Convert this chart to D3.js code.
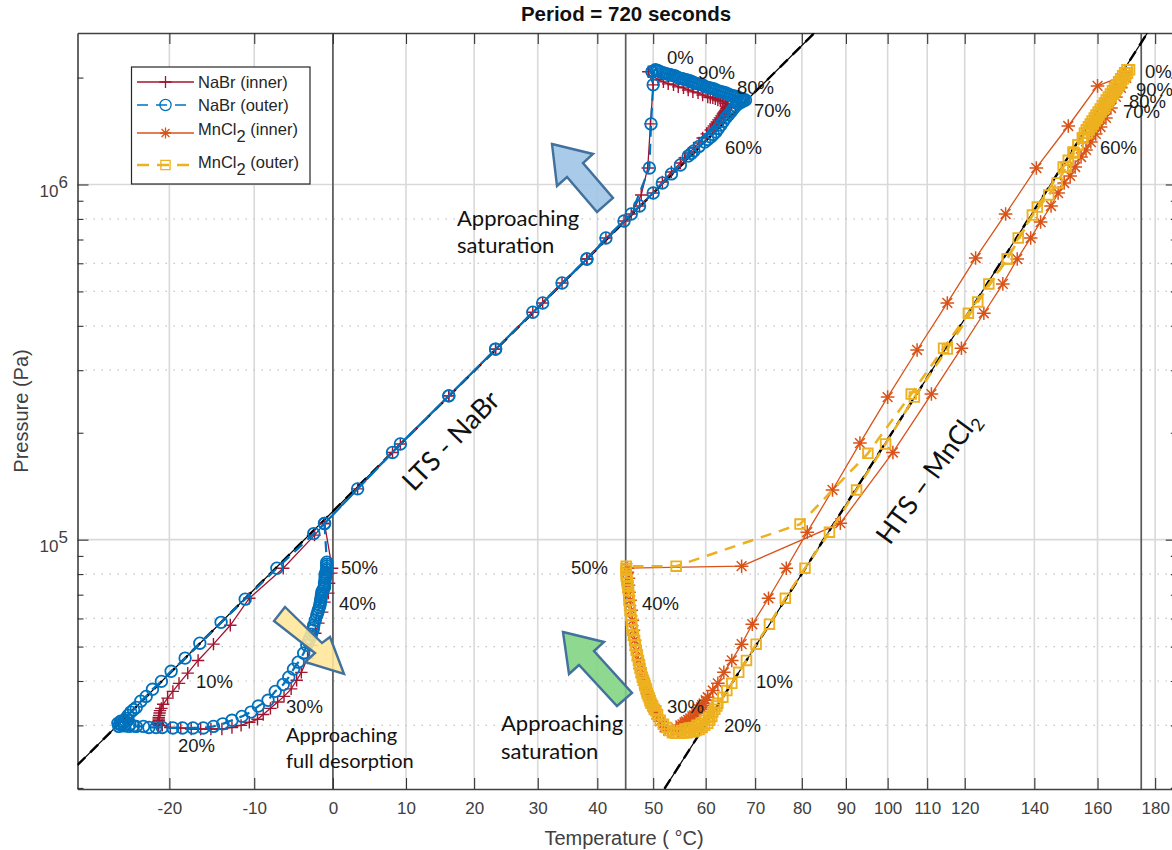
<!DOCTYPE html>
<html><head><meta charset="utf-8">
<script src="https://cdn.jsdelivr.net/npm/d3@7"></script>
<style>html,body{margin:0;padding:0;background:#fff;overflow:hidden}svg{display:block}</style>
</head><body><div id="c"></div>
<script>
// ---------- data: [temperature in deg C, pressure in kPa] ----------
const nabrInner = [[49.1,2076],[50,1908],[49.5,1481],[49,1113],[47.8,934],[46,826],[41.5,707],[38.2,617],[34,528],[29.2,437],[23.3,344],[16.2,254],[8.1,176],[-1.1,111],[-2.4,103],
[-6.4,83.1],[-10.6,68.4],[-12.9,57.4],[-14.9,50.8],[-16.7,45.7],[-17.9,42.1],[-18.9,39.4],[-19.6,37.4],[-20.2,35.8],[-20.7,34.4],[-20.9,33.5],[-21.05,33],[-21.1,32.5],[-21.15,32],[-21.2,31.6],[-21.2,31.3],[-21.2,31],[-21.25,30.7],[-21.3,30.4],[-21.25,30.2],[-21.2,30],
[-20.8,30],[-19.9,29.6],[-18.7,29.5],[-17.5,29.3],[-16.4,29.3],[-15.2,29.3],[-13.9,29.3],[-12.7,29.6],[-11.6,30],[-10.6,30.6],[-9.6,31.2],[-8.9,32.2],[-8,33.5],[-7.1,34.9],[-6.3,36.2],[-5.4,38],[-4.7,40.2],[-4.1,42.3],[-3.3,46.4],[-2.8,50.4],[-2.3,54.5],[-1.9,58.2],[-1.4,62.5],[-1.1,66.7],[-0.6,70.7],[-0.5,75.4],[-0.2,80.5],[-0.1,83.1],
[-1.1,111],[3.3,139],[9.2,186],[16.2,254],[23.3,344],[30.8,464],[38.2,617],[44.7,789],[47.5,870],[50,946],[51.7,1016],[53.4,1084],[55.1,1150],[55.9,1188],[56.8,1227],[57.7,1267],[58.7,1309],[59.4,1352],[60.2,1388],[61,1424],[61.3,1442],[61.6,1461],[61.9,1480],[62.2,1500],[62.5,1520],[62.8,1540],[63.1,1560],[63.4,1580],[63.55,1590],[63.7,1600],[63.85,1610],[64,1621],[64.1,1635],[64.2,1650],[64.3,1662],[64.4,1675],
[63.9,1690],[63.4,1708],[62.9,1720],[62.4,1730],[61.9,1742],[61.4,1753],[60.9,1758],[60.4,1764],[59.4,1787],[58.5,1811],[57.5,1823],[56.6,1846],[55.7,1871],[54.7,1883],[53.8,1908],[52.8,1920],[51.9,1945],[50.9,1971],[50,2021]];

const nabrOuter = [[49.8,2076],[50,1908],[49.6,1481],[49.3,1113],[46,826],[41.5,707],[38.2,617],[34,528],[29.2,437],[23.3,344],[16.2,254],[8.1,176],[-1.1,111],[-2.5,104],
[-7.2,83.1],[-11.1,68],[-14,58.5],[-16.5,51.1],[-18.2,46.4],[-19.8,42.6],[-20.9,39.9],[-21.9,37.9],[-22.6,36.2],[-23.2,35.1],[-23.7,33.7],[-24,33.2],[-24.3,32.7],[-24.6,32],[-24.8,31.4],[-25,31],[-25.1,30.6],[-25.4,30.8],[-25.5,30.2],[-25.7,30.4],[-25.6,29.8],[-25.3,30.1],[-25,29.9],[-24.6,31],[-24.4,30.2],
[-24.5,29.8],[-24,29.9],[-23.7,29.8],[-22.9,29.8],[-22.3,29.6],[-21.5,29.6],[-20.8,29.6],[-19.6,29.5],[-18.5,29.5],[-17.3,29.5],[-16.1,29.5],[-14.9,29.8],[-13.8,30.3],[-12.7,31],[-11.5,31.8],[-10.4,32.7],[-9.5,34],[-8.3,35.3],[-7.4,37.4],[-6.4,39.1],[-5.7,41],[-5.1,43.2],[-4.5,45.2],[-3.8,47.9],[-3.4,50.4],[-3.2,51.6],[-3,52.8],[-2.8,54.2],[-2.6,55.6],[-2.55,56.5],[-2.5,57.4],[-2.3,59.3],[-2.1,61.3],[-2,62.3],[-1.9,63.3],[-1.8,64.3],[-1.7,65.4],[-1.65,66.5],[-1.6,67.5],[-1.55,68.6],[-1.5,69.7],[-1.45,70.6],[-1.4,71.6],[-1.25,72.5],[-1.1,73.5],[-1.1,74.4],[-1.1,75.4],[-1.05,76.6],[-1,77.9],[-1,78.9],[-1,79.9],[-0.9,81],[-0.8,82],[-0.8,83],[-0.8,84.2],[-0.8,85.3],[-0.8,86.4],
[-1.1,111],[3.3,139],[9.2,186],[16.2,254],[23.3,344],[30.8,464],[38.2,617],[44.7,789],[47.5,870],[50,946],[51.7,1010],[53.4,1071],[55.1,1135],[56.6,1203],[57.2,1223],[57.7,1243],[58.7,1280],[59.8,1317],[60.4,1339],[61,1361],[61.5,1383],[62,1406],[62.5,1438],[63,1471],[63.5,1505],[64,1540],[64.5,1570],[65,1600],[65.3,1620],[65.6,1642],[66,1664],[66.4,1686],[66.8,1697],[67.2,1708],[67.6,1720],
[68,1730],[67.6,1735],[67.2,1741],[66.8,1752],[66.4,1764],[66,1770],[65.6,1776],[65.2,1781],[64.8,1787],[64.4,1799],[64,1811],[63.6,1817],[63.2,1823],[62.8,1829],[62.4,1835],[62,1847],[61.6,1859],[61.2,1865],[60.8,1871],[60.4,1877],[60,1883],[59.65,1895],[59.3,1908],[58.9,1914],[58.5,1920],[58.1,1926],[57.7,1933],[57.35,1945],[57,1958],[56.6,1964],[56.2,1971],[55.85,1977],[55.5,1984],[55.1,1990],[54.7,1997],[54.35,2010],[54,2023],[53.6,2029],[53.2,2036],[52.85,2042],[52.5,2049],[52.1,2056],[51.7,2063],[51.3,2076],[50.9,2090],[50.65,2096],[50.4,2103],[49.8,2076]];

const mnInner = [[169.7,2036],[160,1895],[150.5,1461],[140.6,1113],[131.5,826],[123,621],[115.3,464],[107.4,342],[100,252],[93.3,187],[86.9,138],[81.2,105],[76.6,83.1],[72.8,68.4],[69.4,57.8],[67.2,50.8],[65.2,45.7],[63.6,42.3],[62.4,39.4],[61.4,37.6],[60.4,36],[60,35.3],[59.6,34.6],[59.3,34.2],[59.1,33.7],[58.7,33.3],[58.3,32.9],[58.1,32.5],[57.7,32],[57.4,31.8],[57,31.4],[56.6,31.1],[56.2,30.8],[55.9,30.6],[55.5,30.2],[55.1,30],[54.7,29],[54.3,29.4],[53.8,28.8],[52.8,29],[52.1,29.6],[51.3,30.8],[50.6,32.2],[50,33.7],[49.5,35.3],[48.9,36.9],[48.4,38.9],[48,41],[47.6,43.4],[47.3,45.7],[46.9,48.8],[46.6,52.1],[46.4,55.6],[46.2,59.3],[46,63.3],[45.8,67.5],[45.6,71.1],[45.5,74.4],[45.5,77.9],[45.3,81],[45.3,83.1],
[67.2,84.2],[88.7,111.3],[101.3,176],[111.1,257],[119.1,346],[125.3,434],[130.7,525],[134.9,617],[138.9,707],[141.9,784],[145.1,870],[147.3,946],[149.2,1010],[151.1,1057],[152.7,1120],[154.6,1195],[156.2,1251],[157.8,1317],[159.4,1388],[161,1452],[162.8,1540],[164.5,1642],[166.2,1764],[167.9,1871],[169.7,1997]];

const mnOuter = [[170,2103],[169.2,2063],[168.5,2023],[167.8,1984],[167.1,1945],[166.4,1908],[165.7,1871],[165,1835],[164.3,1799],[163.6,1764],[162.9,1730],[162.3,1697],[161.6,1665],[160.9,1632],[160.2,1601],[159.5,1570],[158.9,1540],[158.2,1510],[157.6,1481],[157,1453],[156.3,1425],[155.7,1397],[155,1352],[153.6,1292],[152,1235],[150.5,1170],[148.9,1120],[140.9,864],[132,617],[123.6,467],[115.3,344],[106.7,252],[99.5,186],[92.5,138],[86.2,105],[80.7,83.1],[76.4,68.4],[73,57.8],[70.2,50.8],[68.2,45.7],[66.6,42.3],[65.2,39.4],[64.2,37.6],[63.4,36],[62.4,34.6],[62.2,34],[61.8,33.3],[61.4,32.7],[61.2,31.8],[60.6,31.6],[60.8,31],[59.8,31],[60.4,30.4],[59.1,30.4],[59.8,30],[58.3,30],[59.3,29.6],[57.6,29.6],[58.7,29.2],[56.8,29.5],[58.1,29],[56,29.3],[57.6,28.8],[55.3,29],[57,28.8],[56.4,28.6],[55.9,28.6],[55.3,28.5],[54.7,28.5],[54.2,28.5],[53.6,28.6],[53,29],[52.5,29.6],[51.9,30.2],[51.3,31],[50.8,32.2],[50.5,33],[50.2,33.3],[49.9,34],[49.6,34.6],[49.4,35.2],[49.3,35.8],[49.1,36.3],[48.9,36.9],[48.8,37.5],[48.7,38.1],[48.5,38.8],[48.4,39.4],[48.2,40.2],[48,41],[47.8,42.2],[47.6,43.4],[47.45,44.5],[47.3,45.7],[47.1,47.2],[46.9,48.8],[46.75,50.4],[46.6,52.1],[46.4,53.8],[46.2,55.6],[46.1,57.4],[46,59.3],[45.9,61.2],[45.8,63.3],[45.7,65.3],[45.6,67.5],[45.55,69.8],[45.5,72.1],[45.4,73.7],[45.3,75.4],[45.2,77.1],[45.1,78.9],[45.1,80.4],[45.1,82],[45.1,83],[45.1,84.2],
[54.3,84.2],[79.6,110.6],[95.2,175],[105.9,257],[114.3,346],[121,434],[126.7,525],[132,617],[135.2,707],[139.4,820],[144.4,934],[147,1010],[149.8,1120],[152.4,1227],[153.6,1292],[155.2,1352],[156.7,1397],[157.3,1425],[158,1453],[158.6,1481],[159.2,1510],[159.9,1540],[160.5,1570],[161.2,1601],[161.9,1632],[162.6,1665],[163.3,1697],[163.9,1730],[164.6,1764],[165.3,1799],[166,1835],[166.7,1871],[167.4,1908],[168.1,1945],[168.8,1984],[169.5,2023],[170.2,2063],[170.9,2103]];

const lineNaBr = [[-30,23.2],[82.8,2670]];
const lineMnCl2 = [[52.1,19.9],[177.2,2670]];

const xTickValues = [-20,-10,0,10,20,30,40,50,60,70,80,90,100,110,120,140,160,180];
const markerTemps = [0,45,175];
const yMajor = [1e5,1e6];
const yMinorAll = [2e4,3e4,4e4,5e4,6e4,7e4,8e4,9e4,2e5,3e5,4e5,5e5,6e5,7e5,8e5,9e5,2e6];
const yDotted = [3e4,4e4,5e4,6e4,8e4,3e5,4e5,5e5,6e5,8e5];
const pctNaBr = ["0%","90%","80%","70%","60%","50%","40%","30%","20%","10%"];
const pctMn = ["0%","90%","80%","70%","60%","50%","40%","30%","20%","10%"];

// ---------- layout ----------
const W=1172,H=850, L=77.5,R=1176.8,T0=33,B=789;
const inv=t=>1/(t+273.15);
const x=d3.scaleLinear().domain([inv(-30),inv(188)]).range([L,R]);
const y=d3.scaleLog().domain([19860,2.67e6]).range([B,T0]);
const X=t=>x(inv(t)), Y=k=>y(k*1000);
const C={ink:"#404040",grid:"#d9d9d9",dot:"#c4c4c4",crim:"#A2142F",blue:"#0072BD",org:"#D95319",yel:"#EDB120"};
const SANS="'Liberation Sans',Arial,sans-serif", CAL="Lato,'Open Sans',sans-serif";

const svg=d3.select("#c").append("svg").attr("width",W).attr("height",H);
svg.append("rect").attr("width",W).attr("height",H).attr("fill","#fff");
svg.append("defs").append("clipPath").attr("id","pa").append("rect").attr("x",L).attr("y",T0).attr("width",R-L).attr("height",B-T0);

// grid
const grid=svg.append("g");
grid.selectAll(".gv").data(xTickValues).join("line").attr("x1",X).attr("x2",X).attr("y1",T0).attr("y2",B).attr("stroke",C.grid).attr("stroke-width",1.6);
grid.selectAll(".gh").data(yMajor).join("line").attr("x1",L).attr("x2",R).attr("y1",y).attr("y2",y).attr("stroke",C.grid).attr("stroke-width",1.6);
grid.selectAll(".gd").data(yDotted).join("line").attr("x1",L).attr("x2",R).attr("y1",y).attr("y2",y).attr("stroke",C.dot).attr("stroke-width",1.2).attr("stroke-dasharray","1.5 6.5");
grid.selectAll(".gm").data(markerTemps).join("line").attr("x1",X).attr("x2",X).attr("y1",T0).attr("y2",B).attr("stroke","#5a5a5a").attr("stroke-width",1.7);

// axes
function styleAxis(g){g.select(".domain").attr("stroke",C.ink).attr("stroke-width",1.6);g.selectAll(".tick line").attr("stroke","#333").attr("stroke-width",1.1);g.selectAll("text").attr("font-family",SANS).attr("font-size",17).attr("fill",C.ink);}
const xv=xTickValues.map(inv);
const fmtT=v=>String(Math.round(1/v-273.15));
svg.append("g").attr("transform",`translate(0,${B})`).call(d3.axisBottom(x).tickValues(xv).tickSize(-11).tickSizeOuter(0).tickPadding(13).tickFormat(fmtT)).call(styleAxis);
svg.append("g").attr("transform",`translate(0,${T0})`).call(d3.axisTop(x).tickValues(xv).tickSize(-11).tickSizeOuter(0).tickFormat("")).call(styleAxis);
const yl=svg.append("g").attr("transform",`translate(${L},0)`).call(d3.axisLeft(y).tickValues(yMajor).tickSize(-11).tickSizeOuter(0).tickFormat("")).call(styleAxis);
yl.selectAll(".tick").append("text").attr("x",-38).attr("y",12).attr("text-anchor","start").attr("font-family",SANS).attr("font-size",17).attr("fill",C.ink).text("10").append("tspan").attr("dy",-9).attr("font-size",17).text(d=>Math.log10(d));
svg.append("g").attr("transform",`translate(${L},0)`).call(d3.axisLeft(y).tickValues(yMinorAll).tickSize(-6).tickSizeOuter(0).tickFormat("")).call(styleAxis).select(".domain").remove();
svg.append("g").attr("transform",`translate(${R},0)`).call(d3.axisRight(y).tickValues(yMajor).tickSize(-11).tickSizeOuter(0).tickFormat("")).call(styleAxis);
svg.append("g").attr("transform",`translate(${R},0)`).call(d3.axisRight(y).tickValues(yMinorAll).tickSize(-6).tickSizeOuter(0).tickFormat("")).call(styleAxis).select(".domain").remove();

// markers
const mk={
 plus:s=>`M${-s},0H${s}M0,${-s}V${s}`,
 circle:s=>`M${s},0A${s},${s} 0 1 1 ${-s},0A${s},${s} 0 1 1 ${s},0`,
 star:s=>{const k=s*.72;return `M${-s},0H${s}M0,${-s}V${s}M${-k},${-k}L${k},${k}M${-k},${k}L${k},${-k}`;},
 square:s=>`M${-s},${-s}H${s}V${s}H${-s}Z`
};
const plot=svg.append("g").attr("clip-path","url(#pa)");
const lineGen=d3.line().x(d=>X(d[0])).y(d=>Y(d[1]));
[lineNaBr,lineMnCl2].forEach(d=>{
 plot.append("path").attr("d",lineGen(d)).attr("fill","none").attr("stroke","#000").attr("stroke-width",1.2);
 plot.append("path").attr("d",lineGen(d)).attr("fill","none").attr("stroke","#000").attr("stroke-width",2.4).attr("stroke-dasharray","11 7");
});
function series(d,col,lw,dash,m,s,mw){
 const g=plot.append("g");
 g.append("path").attr("d",lineGen(d)).attr("fill","none").attr("stroke",col).attr("stroke-width",lw).attr("stroke-dasharray",dash||null);
 g.selectAll("path.m").data(d).join("path").attr("class","m").attr("d",mk[m](s)).attr("transform",p=>`translate(${X(p[0])},${Y(p[1])})`).attr("fill","none").attr("stroke",col).attr("stroke-width",mw);
}
series(nabrInner,C.crim,1.3,null,"plus",6.2,1.4);
series(nabrOuter,C.blue,2.2,"11 7","circle",5.8,1.8);
series(mnInner,C.org,1.3,null,"star",6.8,1.5);
series(mnOuter,C.yel,2.5,"11 8","square",4.8,1.9);

// arrows
const arrows=[
 {p:[[552,144],[593,154],[583,163],[613,198],[597,212],[567,177],[557,186]],f:"#9DC3E6"},
 {p:[[285,607],[274,621],[315,653],[305,662],[344,674],[330,637],[322,643]],f:"#FFE699"},
 {p:[[563,632],[604,642],[594,651],[632,693],[617,706],[579,665],[569,674]],f:"#7FD37F"}];
svg.selectAll(".arrow").data(arrows).join("polygon").attr("points",d=>d.p.map(q=>q.join(",")).join(" ")).attr("fill",d=>d.f).attr("fill-opacity",.88).attr("stroke","#41719C").attr("stroke-width",2.4).attr("stroke-linejoin","miter");

// percent labels
const posNaBr=[[667,64],[698,79],[737,94],[754,117],[725,154],[341,574],[339,610],[286,713],[178,752],[196,688]];
const posMn=[[1145,78],[1136,96],[1129,108],[1123,118],[1100,154],[571,574],[642,610],[667,713],[724,732],[756,688]];
const pct=(labels,pos)=>labels.forEach((t,i)=>svg.append("text").attr("x",pos[i][0]).attr("y",pos[i][1]).attr("font-family",SANS).attr("font-size",18.5).attr("fill","#1a1a1a").text(t));
pct(pctNaBr,posNaBr);pct(pctMn,posMn);

// notes
const notes=[["Approaching",457,226,22],["saturation",457,253,22],["Approaching",501,731,22],["saturation",501,759,22],["Approaching",286,742,20],["full desorption",286,768,20]];
notes.forEach(n=>svg.append("text").attr("x",n[1]).attr("y",n[2]).attr("font-family",CAL).attr("font-size",n[3]).attr("fill","#111").text(n[0]));
svg.append("text").attr("transform","translate(451,441) rotate(-46)").attr("text-anchor","middle").attr("dy",9).attr("font-family",CAL).attr("font-size",27).attr("fill","#111").text("LTS - NaBr");
const hts=svg.append("text").attr("transform","translate(928,478) rotate(-54)").attr("text-anchor","middle").attr("dy",9).attr("font-family",CAL).attr("font-size",27).attr("fill","#111").text("HTS – MnCl");
hts.append("tspan").attr("dy",6).attr("font-size",18).text("2");

// titles
svg.append("text").attr("x",626).attr("y",21).attr("text-anchor","middle").attr("font-family",SANS).attr("font-weight","bold").attr("font-size",20.5).attr("fill","#111").text("Period = 720 seconds");
svg.append("text").attr("x",624).attr("y",845).attr("text-anchor","middle").attr("font-family",SANS).attr("font-size",20).attr("fill",C.ink).text("Temperature ( °C)");
svg.append("text").attr("transform","translate(28,411) rotate(-90)").attr("text-anchor","middle").attr("font-family",SANS).attr("font-size",20).attr("fill",C.ink).text("Pressure (Pa)");

// legend
const lg=svg.append("g");
lg.append("rect").attr("x",131.5).attr("y",67).attr("width",178.5).attr("height",117).attr("fill","#fff").attr("stroke","#262626").attr("stroke-width",1.2);
const legend=[
 {t:"NaBr (inner)",c:C.crim,m:"plus",s:6,lw:1.3,d:null,ly:82,ty:88},
 {t:"NaBr (outer)",c:C.blue,m:"circle",s:5.6,lw:1.5,d:"11 8",ly:105,ty:111},
 {t:"MnCl",sub:" (inner)",c:C.org,m:"star",s:5.5,lw:1.3,d:null,ly:133,ty:135},
 {t:"MnCl",sub:" (outer)",c:C.yel,m:"square",s:4.6,lw:2.5,d:"12 8",ly:165,ty:168}];
legend.forEach(e=>{
 lg.append("line").attr("x1",137).attr("x2",194).attr("y1",e.ly).attr("y2",e.ly).attr("stroke",e.c).attr("stroke-width",e.lw).attr("stroke-dasharray",e.d);
 lg.append("path").attr("d",mk[e.m](e.s)).attr("transform",`translate(165.5,${e.ly})`).attr("fill","none").attr("stroke",e.c).attr("stroke-width",1.3);
 const t=lg.append("text").attr("x",198).attr("y",e.ty).attr("font-family",SANS).attr("font-size",16.5).attr("fill","#262626").text(e.t);
 if(e.sub){t.append("tspan").attr("dy",7).attr("font-size",16.5).text("2");t.append("tspan").attr("dy",-7).text(e.sub);}
});
</script></body></html>
